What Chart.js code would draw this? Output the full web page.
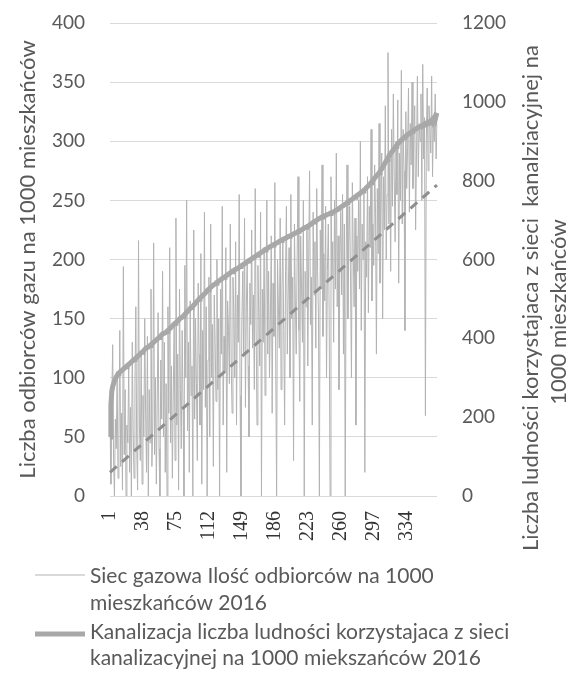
<!DOCTYPE html>
<html><head><meta charset="utf-8">
<script src="https://cdn.jsdelivr.net/npm/chart.js@4/dist/chart.umd.min.js"></script>
<style>html,body{margin:0;padding:0;background:#fff;}#wrap{width:577px;height:684px;}</style>
</head><body><div id="wrap"><canvas id="c" width="577" height="684"></canvas></div>
<script>
// ---- data ----
const categoryCount = 368;
const categories = Array.from({length: categoryCount}, (_, i) => String(i + 1));
const tickLabels = ['1','38','75','112','149','186','223','260','297','334'];

const gasValues = [
  55,10,80,128,30,0,65,40,100,15,50,140,25,70,5,194,35,90,0,60,
  45,110,20,75,0,130,55,15,95,160,40,5,216,60,30,120,10,85,50,150,
  70,20,135,0,90,45,175,25,60,214,35,100,10,80,155,40,0,115,65,190,
  50,130,20,95,0,160,70,210,45,110,15,85,145,30,235,60,120,5,175,90,
  40,140,75,0,195,100,250,55,130,20,165,85,110,0,225,65,150,95,30,180,
  120,60,205,10,140,90,240,75,160,0,115,185,50,230,100,145,25,170,130,80,
  200,90,150,0,175,120,245,60,135,105,210,20,165,140,95,230,115,70,185,155,
  100,215,60,170,130,255,85,0,150,190,120,235,75,160,200,110,50,180,145,225,
  125,170,90,260,140,60,195,155,110,240,0,175,130,210,85,160,250,120,190,100,
  150,220,70,180,135,265,110,0,200,160,125,235,90,175,215,140,60,190,245,120,
  170,210,100,255,150,185,30,230,165,120,200,270,140,80,220,175,130,250,0,190,
  160,230,110,200,275,145,185,60,240,170,215,125,260,190,150,0,225,175,280,135,
  205,165,245,100,190,230,150,0,270,185,215,130,250,175,290,160,220,90,200,240,
  170,255,120,230,0,195,280,150,215,245,180,100,265,205,160,235,60,220,190,250,
  175,300,140,230,200,260,20,215,185,270,155,245,210,310,165,230,195,280,240,120,
  260,205,315,180,240,290,150,270,225,330,200,255,375,230,285,190,310,245,340,270,
  215,300,255,335,180,290,250,360,230,310,275,140,325,260,295,345,240,315,280,350,
  260,305,330,225,290,355,270,315,300,340,250,365,285,320,68,300,345,275,330,310,
  290,355,270,320,300,340,285,315
];

const sewageValues = [
  150,230,265,278,285,292,297,302,306,310,
  312,314,316,318,320,322,324,326,328,330,
  332,334,336,338,340,342,344,346,348,350,
  352,354,356,358,361,363,365,367,369,372,
  374,376,377,378,380,382,384,386,388,390,
  392,394,396,398,400,402,404,406,409,411,
  412,413,414,416,418,420,422,424,427,429,
  431,434,436,438,440,442,444,446,449,451,
  452,454,456,458,461,463,466,468,471,473,
  476,478,480,482,484,487,489,492,495,497,
  500,502,504,506,508,511,513,515,518,521,
  523,525,527,529,531,533,535,537,538,540,
  542,543,545,547,548,550,552,553,555,556,
  558,560,561,563,565,566,568,569,571,572,
  574,575,576,577,579,580,582,583,585,586,
  588,589,591,592,594,596,597,599,600,602,
  603,605,606,608,609,611,612,614,615,617,
  618,620,621,623,624,626,627,629,630,632,
  633,634,635,637,638,639,641,642,643,644,
  646,647,648,649,651,652,653,654,655,657,
  658,659,660,661,662,664,665,666,667,668,
  669,671,672,673,674,675,677,678,680,681,
  682,683,684,686,687,689,690,692,694,695,
  697,698,700,701,703,704,705,707,708,709,
  710,711,712,713,714,715,716,717,718,719,
  720,721,722,724,725,726,728,729,731,733,
  734,736,737,739,740,742,744,745,747,749,
  750,752,753,755,757,758,760,762,764,765,
  767,768,770,772,774,776,778,780,783,785,
  787,790,792,795,797,800,803,806,809,812,
  814,817,820,823,827,830,834,838,842,846,
  850,854,858,862,866,869,872,875,878,881,
  884,887,890,893,896,898,901,903,905,907,
  909,911,913,915,917,918,920,922,923,925,
  926,928,929,931,932,933,935,936,937,938,
  939,941,940,943,942,945,944,946,948,947,
  950,953,949,956,960,955,965,972
];

// linear trend of the gas series: value at first and last category
const trendEnds = [20, 263];

const leftAxisTitle = 'Liczba odbiorców gazu na 1000 mieszkańców';
const rightAxisTitle = ['Liczba ludności korzystajaca z sieci  kanalziacyjnej na', '1000 mieszkańców'];
const gasLegend = ['Siec gazowa Ilość odbiorców na 1000', 'mieszkańców 2016'];
const sewageLegend = ['Kanalizacja liczba ludności korzystajaca z sieci', 'kanalizacyjnej na 1000 miekszańców 2016'];

// ---- chart ----
const TEXT = '#595959';
const FONT = 'Lato, "Open Sans", sans-serif';
const trendData = categories.map((_, i) => i === 0 ? trendEnds[0] : (i === categoryCount - 1 ? trendEnds[1] : null));

const extras = {
  id: 'extras',
  afterDraw(chart) {
    const ctx = chart.ctx;
    ctx.save();
    ctx.fillStyle = TEXT;
    // right axis title, rotated to read bottom-to-top
    ctx.font = '22px ' + FONT;
    ctx.textAlign = 'center';
    ctx.textBaseline = 'middle';
    const rx = [531, 559], ry = [298, 312];
    rightAxisTitle.forEach((t, i) => {
      ctx.save();
      ctx.translate(rx[i], ry[i]);
      ctx.rotate(-Math.PI / 2);
      ctx.fillText(t, 0, 0);
      ctx.restore();
    });
    // legend
    const ds = chart.data.datasets;
    const items = [
      {d: ds[0], lines: gasLegend, y: [576, 603], sy: 575},
      {d: ds[1], lines: sewageLegend, y: [632, 658], sy: 634}
    ];
    ctx.textAlign = 'left';
    ctx.font = '21px ' + FONT;
    items.forEach(it => {
      ctx.beginPath();
      ctx.strokeStyle = it.d.borderColor;
      ctx.lineWidth = it.d.borderWidth;
      ctx.moveTo(35, it.sy);
      ctx.lineTo(85, it.sy);
      ctx.stroke();
      it.lines.forEach((t, i) => ctx.fillText(t, 90, it.y[i]));
    });
    ctx.restore();
  }
};

const noVertPad = s => { s.paddingTop = 0; s.paddingBottom = 0; };

new Chart(document.getElementById('c'), {
  type: 'line',
  data: {
    labels: categories,
    datasets: [
      {label: gasLegend.join(' '), data: gasValues, yAxisID: 'y', borderColor: '#b3b3b3', borderWidth: 1, pointRadius: 0, order: 2},
      {label: sewageLegend.join(' '), data: sewageValues, yAxisID: 'y1', borderColor: '#a8a8a8', borderWidth: 5, pointRadius: 0, order: 1},
      {label: 'trend', data: trendData, yAxisID: 'y', borderColor: '#8f8f8f', borderWidth: 3, borderDash: [9, 7], pointRadius: 0, spanGaps: true, order: 0}
    ]
  },
  options: {
    responsive: false,
    animation: false,
    devicePixelRatio: 1,
    layout: {padding: {left: 0, right: 0, top: 23, bottom: 128}},
    plugins: {legend: {display: false}, tooltip: {enabled: false}},
    scales: {
      x: {
        type: 'category', offset: false,
        grid: {display: false, drawTicks: false}, border: {display: false},
        ticks: {
          autoSkip: false, maxRotation: 90, minRotation: 90, padding: 15, color: '#333',
          font: {family: '"Liberation Serif", serif', size: 20},
          callback(v) { const l = this.getLabelForValue(v); return tickLabels.includes(l) ? l : null; }
        },
        afterFit(s) { s.height = 60; s.paddingLeft = 0; s.paddingRight = 0; }
      },
      y: {
        position: 'left', min: 0, max: 400,
        grid: {color: '#d9d9d9', drawTicks: false}, border: {display: false},
        ticks: {stepSize: 50, padding: 25, color: TEXT, font: {family: FONT, size: 19}, callback: v => String(v)},
        title: {display: true, text: leftAxisTitle, color: TEXT, font: {family: FONT, size: 22}, padding: {top: 15, bottom: 0}},
        afterFit(s) { s.width = 110; noVertPad(s); }
      },
      y1: {
        position: 'right', min: 0, max: 1200,
        grid: {display: false, drawTicks: false}, border: {display: false},
        ticks: {stepSize: 200, padding: 25, color: TEXT, font: {family: FONT, size: 19}, callback: v => String(v)},
        afterFit(s) { s.width = 140; noVertPad(s); }
      }
    }
  },
  plugins: [extras]
});
</script>
</body></html>
